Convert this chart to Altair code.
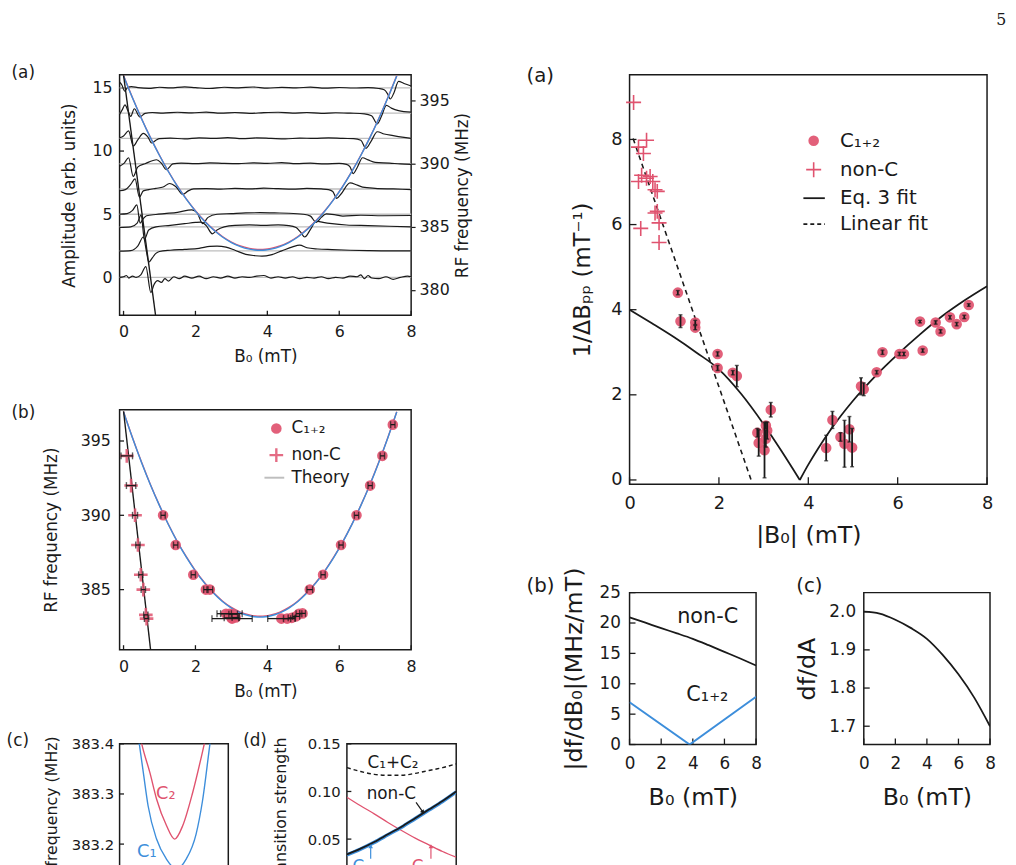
import altair as alt
import pandas as pd

FONT = "DejaVu Sans"
SERIF = "DejaVu Serif"
INK = "#1a1a1a"
PINK = "#E0536F"
BLUE = "#3D8EDB"
GRAY = "#BEBEBE"
CROSS = "M-1,0L1,0M0,-1L0,1"

# ---------------- data: left (a) spectra, (B0 [mT], amplitude) ----------------
spectra_rf = ["396", "394", "392", "390", "388", "386", "385", "383", "off"]
spectra_base = [15, 13, 11, 9, 7, 5, 4, 2.1, 0]
spec_396 = [(-0.11,15.45),(-0.05,15.25),(0.03,14.75),(0.12,15.05),(0.22,15.1),(0.4,15.02),(0.7,14.96),(1.0,15.05),(1.3,15.0),(1.7,15.08),(2.0,15.02),(2.4,14.95),(2.8,15.05),(3.2,15.0),(3.6,15.07),(4.0,14.98),(4.4,15.04),(4.8,15.0),(5.2,15.06),(5.6,14.98),(6.0,15.03),(6.4,14.99),(6.8,15.02),(7.1,14.95),(7.25,14.85),(7.34,14.55),(7.42,14.12),(7.52,14.6),(7.65,15.52),(7.8,15.35),(8.0,15.15)]
spec_394 = [(-0.11,12.9),(-0.03,13.3),(0.04,13.65),(0.12,13.2),(0.2,12.75),(0.3,13.35),(0.45,12.7),(0.6,12.98),(0.8,13.05),(1.1,13.0),(1.5,13.07),(1.9,13.02),(2.3,13.08),(2.7,13.0),(3.1,13.05),(3.5,12.98),(3.9,13.04),(4.3,13.07),(4.7,13.0),(5.1,13.05),(5.5,12.98),(5.9,13.03),(6.3,13.0),(6.7,12.95),(6.9,12.8),(7.06,12.15),(7.18,12.8),(7.31,13.62),(7.45,13.4),(7.65,13.2),(8.0,13.08)]
spec_392 = [(-0.11,11.05),(0.0,11.2),(0.14,11.6),(0.27,10.4),(0.4,10.9),(0.55,11.4),(0.68,11.1),(0.78,10.64),(0.9,10.85),(1.0,10.98),(1.3,11.02),(1.7,10.97),(2.1,11.05),(2.5,11.0),(2.9,11.06),(3.3,10.98),(3.7,11.04),(4.1,11.0),(4.5,10.96),(4.9,11.03),(5.3,11.0),(5.7,11.05),(6.1,11.0),(6.4,10.98),(6.6,10.85),(6.74,10.22),(6.88,10.75),(7.06,11.53),(7.25,11.35),(7.5,11.22),(7.75,11.1),(8.0,11.0)]
spec_390 = [(-0.11,8.8),(0.02,9.05),(0.14,9.47),(0.27,8.0),(0.4,8.75),(0.6,9.0),(0.92,9.31),(1.05,9.05),(1.19,8.53),(1.37,8.98),(1.6,9.05),(2.0,9.0),(2.4,9.06),(2.8,9.02),(3.2,9.0),(3.6,9.07),(4.0,9.03),(4.4,9.08),(4.8,9.0),(5.2,9.04),(5.6,8.98),(6.0,9.03),(6.2,8.95),(6.3,8.75),(6.39,8.22),(6.5,8.7),(6.65,9.47),(6.8,9.3),(7.0,9.1),(7.4,9.05),(7.7,8.98),(8.0,8.95)]
spec_388 = [(-0.11,6.86),(0.05,6.95),(0.2,7.36),(0.32,7.8),(0.44,6.35),(0.55,6.85),(0.7,6.95),(0.9,7.05),(1.1,7.15),(1.28,7.43),(1.45,7.2),(1.65,6.57),(1.8,6.85),(1.95,7.0),(2.3,7.03),(2.7,6.98),(3.1,7.05),(3.5,7.0),(3.9,7.06),(4.3,7.02),(4.7,6.98),(5.1,7.04),(5.5,7.0),(5.7,6.95),(5.82,6.8),(5.93,6.26),(6.05,6.6),(6.3,7.48),(6.5,7.3),(6.65,7.15),(7.0,7.05),(7.5,7.0),(8.0,6.95)]
spec_386 = [(-0.11,5.0),(0.1,5.05),(0.25,5.3),(0.37,5.74),(0.46,4.3),(0.55,4.65),(0.64,4.88),(0.9,4.98),(1.14,5.05),(1.5,5.15),(1.9,5.35),(2.05,5.1),(2.2,4.25),(2.35,4.75),(2.6,5.0),(3.0,5.05),(3.4,5.1),(3.8,5.12),(4.2,5.1),(4.6,5.08),(5.0,5.0),(5.2,4.85),(5.36,4.35),(5.5,4.75),(5.64,5.03),(5.9,4.95),(6.1,4.85),(6.6,4.92),(7.2,4.88),(8.0,4.9)]
spec_385 = [(-0.11,3.95),(0.2,4.0),(0.38,4.3),(0.49,4.95),(0.58,3.0),(0.7,3.75),(0.9,4.0),(1.3,4.12),(1.7,4.25),(2.0,4.35),(2.15,4.38),(2.3,4.1),(2.47,3.45),(2.6,3.75),(2.8,4.0),(3.1,4.12),(3.5,4.15),(3.9,4.12),(4.3,4.15),(4.6,4.1),(4.8,3.95),(4.92,3.6),(5.04,3.2),(5.2,3.8),(5.36,4.45),(5.55,4.35),(5.8,4.25),(6.2,4.15),(6.8,4.1),(7.4,4.05),(8.0,4.0)]
spec_383 = [(-0.11,2.08),(0.2,2.12),(0.4,2.5),(0.55,3.2),(0.64,2.0),(0.7,1.2),(0.8,1.55),(0.9,1.9),(1.0,2.05),(1.3,2.15),(1.7,2.22),(2.1,2.3),(2.4,2.45),(2.6,2.48),(2.85,2.4),(3.1,2.15),(3.4,1.82),(3.65,1.72),(3.85,1.68),(4.1,1.78),(4.4,2.1),(4.7,2.42),(4.9,2.55),(5.1,2.35),(5.4,2.25),(5.8,2.2),(6.3,2.15),(6.8,2.12),(7.4,2.1),(8.0,2.1)]
spec_off = [(-0.11,0.0),(0.0,0.05),(0.08,0.15),(0.15,-0.05),(0.25,0.1),(0.35,0.0),(0.48,0.2),(0.62,0.85),(0.76,-1.2),(0.85,-0.55),(0.95,-0.25),(1.05,-0.4),(1.15,-0.1),(1.25,-0.3),(1.4,0.05),(1.55,-0.1),(1.7,0.1),(1.9,-0.05),(2.1,0.1),(2.3,-0.1),(2.5,0.05),(2.7,-0.05),(2.9,0.1),(3.1,-0.05),(3.3,0.05),(3.5,0.0),(3.7,0.1),(3.9,0.15),(4.1,-0.05),(4.3,0.05),(4.5,-0.05),(4.7,0.05),(4.9,-0.1),(5.1,0.0),(5.3,-0.05),(5.5,0.05),(5.7,-0.1),(5.9,0.0),(6.1,-0.05),(6.3,0.1),(6.5,0.05),(6.6,0.2),(6.7,-0.1),(6.8,0.15),(6.9,-0.05),(7.1,-0.1),(7.3,0.05),(7.5,-0.15),(7.7,0.0),(7.9,0.1),(8.0,0.05)]
spectra_traces = [spec_396, spec_394, spec_392, spec_390, spec_388, spec_386, spec_385, spec_383, spec_off]

# theory: RF frequency (MHz) of C1 and C2 lines vs B0, and the non-C line
theory_b0 = [0, 0.25, 0.5, 0.75, 1.0, 1.25, 1.5, 1.75, 2.0, 2.25, 2.5, 2.75, 3.0, 3.25, 3.5, 3.65, 3.8, 3.95, 4.1, 4.35, 4.6, 4.85, 5.1, 5.35, 5.6, 5.85, 6.1, 6.35, 6.6, 6.85, 7.1, 7.35, 7.6]
theory_c1 = [396.95, 395.2, 393.56, 392.04, 390.65, 389.36, 388.2, 387.17, 386.25, 385.45, 384.77, 384.2, 383.76, 383.44, 383.24, 383.17, 383.15, 383.17, 383.24, 383.44, 383.76, 384.2, 384.77, 385.45, 386.25, 387.17, 388.21, 389.37, 390.65, 392.04, 393.56, 395.2, 396.95]
theory_c2 = [396.97, 395.22, 393.58, 392.06, 390.67, 389.38, 388.22, 387.2, 386.28, 385.48, 384.8, 384.24, 383.8, 383.49, 383.3, 383.23, 383.21, 383.23, 383.3, 383.49, 383.8, 384.24, 384.8, 385.48, 386.28, 387.2, 388.23, 389.39, 390.67, 392.06, 393.58, 395.22, 396.97]
nonc_theory = [(0.0, 397.0), (0.9, 377.8)]

# left (b): (B0, RF frequency, B0 error)
lb_c = [(1.10,390.0,0.06),(1.45,388.0,0.06),(1.94,386.0,0.06),(2.29,385.0,0.06),(2.40,385.0,0.08),(2.85,383.38,0.15),(2.95,383.38,0.35),(3.05,383.35,0.12),(3.02,383.05,0.56),(3.0,383.1,0.2),(3.12,383.12,0.1),(4.39,383.05,0.38),(4.55,383.05,0.1),(4.68,383.1,0.1),(4.8,383.2,0.1),(4.88,383.38,0.08),(4.98,383.4,0.08),(5.18,385.0,0.08),(5.55,386.0,0.06),(6.05,388.0,0.06),(6.48,390.0,0.06),(6.86,392.0,0.06),(7.2,394.0,0.06),(7.49,396.1,0.06)]
lb_nonc = [(0.09,394.0,0.16),(0.21,392.0,0.13),(0.32,390.0,0.07),(0.40,388.0,0.06),(0.48,386.0,0.06),(0.55,385.0,0.06),(0.62,383.3,0.06),(0.64,383.05,0.06)]
lb_legend_labels = ["C\u2081\u208a\u2082", "non-C", "Theory"]
lb_legend_y = [395.84, 394.05, 392.53]

# left (c): zoomed anticrossing, (B0, RF frequency)
lc_c2 = [(3.25,383.45),(3.326,383.40),(3.447,383.342),(3.544,383.29),(3.69,383.237),(3.81,383.21),(3.93,383.237),(4.076,383.303),(4.247,383.40),(4.33,383.45)]
lc_c1 = [(3.24,383.45),(3.29,383.40),(3.35,383.342),(3.42,383.276),(3.544,383.21),(3.69,383.17),(3.835,383.15),(3.98,383.17),(4.126,383.22),(4.22,383.286),(4.33,383.40),(4.38,383.45)]

# left (d): transition strength
ld_b0 = [0, 1, 2, 3, 4, 5, 6, 7, 8]
ld_sum = [0.125, 0.121, 0.118, 0.117, 0.117, 0.119, 0.122, 0.125, 0.129]
ld_nonc = [0.034, 0.040, 0.047, 0.055, 0.063, 0.072, 0.081, 0.090, 0.100]
ld_c1 = [0.0335, 0.0395, 0.0465, 0.0545, 0.0625, 0.0715, 0.0805, 0.0895, 0.0995]
ld_c2 = [0.094, 0.085, 0.0765, 0.0675, 0.059, 0.051, 0.044, 0.037, 0.031]

# right (a): 1/dBpp, (|B0|, value, error)
ra_c = [(1.08,4.40,0.05),(1.14,3.73,0.15),(1.47,3.70,0.05),(1.47,3.58,0.05),(1.97,2.96,0.05),(1.97,2.63,0.06),(2.31,2.52,0.05),(2.40,2.44,0.25),(2.86,1.11,0.1),(2.89,0.87,0.31),(3.02,0.70,0.65),(3.05,1.28,0.08),(3.08,1.16,0.2),(3.05,0.97,0.2),(3.16,1.65,0.17),(4.40,0.75,0.3),(4.54,1.41,0.2),(4.72,1.01,0.1),(4.81,0.85,0.55),(4.92,1.19,0.3),(4.98,0.76,0.45),(5.18,2.20,0.2),(5.24,2.13,0.15),(5.53,2.53,0.04),(5.66,3.00,0.05),(6.04,2.96,0.04),(6.14,2.96,0.04),(6.50,3.72,0.03),(6.56,3.04,0.04),(6.85,3.70,0.04),(6.96,3.49,0.04),(7.17,3.82,0.04),(7.32,3.66,0.04),(7.49,3.83,0.04),(7.59,4.11,0.03)]
ra_nonc = [(0.09,8.87),(0.20,7.82),(0.31,7.67),(0.38,7.98),(0.20,7.01),(0.27,7.16),(0.46,7.13),(0.52,7.01),(0.38,7.09),(0.57,6.82),(0.62,6.78),(0.57,6.27),(0.62,6.31),(0.66,6.04),(0.25,5.91),(0.66,5.58)]
ra_eq3_left = [(0.0,4.0),(0.5,3.68),(1.0,3.35),(1.5,2.99),(2.0,2.6),(2.5,2.02),(3.0,1.31),(3.4,0.68),(3.81,0.0)]
ra_eq3_right = [(3.81,0.0),(4.0,0.36),(4.22,0.74),(4.5,1.18),(5.0,1.86),(5.5,2.44),(6.0,2.95),(6.5,3.42),(7.0,3.85),(7.5,4.22),(8.0,4.55)]
ra_linear = [(0.08,8.02),(2.72,0.0)]
ra_legend_labels = ["C\u2081\u208a\u2082", "non-C", "Eq. 3 fit", "Linear fit"]
ra_legend_y = [7.97, 7.29, 6.62, 6.01]

# right (b), (c)
rb_b0 = [0, 1, 2, 3, 4, 5, 6, 7, 8]
rb_nonc = [20.93, 20.05, 19.15, 18.3, 17.4, 16.35, 15.25, 14.15, 13.0]
rb_c_b0 = [0.0, 3.8, 8.0]
rb_c = [6.95, 0.0, 7.86]
rc_b0 = [0, 1, 2, 3, 4, 5, 6, 7, 8]
rc_dfda = [2.0, 1.995, 1.979, 1.957, 1.929, 1.887, 1.836, 1.775, 1.70]

LABEL_COLORS = alt.Scale(domain=["k", "C1", "C2"], range=[INK, BLUE, PINK])


# ---------------- helpers ----------------
def sc(lo, hi):
    return alt.Scale(domain=[lo, hi], nice=False, zero=False)


def one():
    return pd.DataFrame({"a": [0]})


def vtext(text, x, y, size, align="left", baseline="middle", font=FONT, color=INK):
    return alt.Chart(one()).mark_text(text=text, font=font, fontSize=size, align=align,
                                      baseline=baseline, color=color).encode(x=alt.value(x), y=alt.value(y))


def anchor(x1, x2, y1, y2):
    return alt.Chart(one()).mark_rect(opacity=0).encode(
        x=alt.value(x1), x2=alt.value(x2), y=alt.value(y1), y2=alt.value(y2))


def ax_(f, s, a):
    return alt.X(f, type="quantitative", scale=s, axis=a)


def ay_(f, s, a):
    return alt.Y(f, type="quantitative", scale=s, axis=a)


def xticks(vals, xs, ax, h, length):
    return alt.Chart(pd.DataFrame({"v": vals})).mark_rule(color=INK, strokeWidth=1.3).encode(
        x=ax_("v", xs, ax), y=alt.value(h), y2=alt.value(h - length))


def yticks(vals, ys, ay, length):
    return alt.Chart(pd.DataFrame({"v": vals})).mark_rule(color=INK, strokeWidth=1.3).encode(
        y=ay_("v", ys, ay), x=alt.value(0), x2=alt.value(length))


def xaxis(title, values, fmt, lsize, tsize, lpad, ty, w):
    return alt.Axis(title=title, values=values, format=fmt, orient="bottom", labelFontSize=lsize,
                    titleFontSize=tsize, labelPadding=lpad, labelFlush=False, labelOverlap=False,
                    ticks=False, tickSize=0, domain=False, grid=False, titleX=w / 2, titleY=ty,
                    titleBaseline="middle", titleAlign="center")


def yaxis(title, values, fmt, lsize, tsize, lpad, tx, h):
    return alt.Axis(title=title, values=values, format=fmt, orient="left", labelFontSize=lsize,
                    titleFontSize=tsize, labelPadding=lpad, labelFlush=False, labelOverlap=False,
                    ticks=False, tickSize=0, domain=False, grid=False, titleX=tx, titleY=h / 2,
                    titleAngle=270, titleBaseline="middle", titleAlign="center")


def line(df, xf, yf, xs, ys, ax, ay, color, width, dash=None, interp="monotone", detail=None):
    kw = dict(color=color, strokeWidth=width, interpolate=interp, clip=True)
    if dash:
        kw["strokeDash"] = dash
    enc = dict(x=ax_(xf, xs, ax), y=ay_(yf, ys, ay))
    if detail:
        enc["detail"] = alt.Detail(detail, type="nominal")
    return alt.Chart(df).mark_line(**kw).encode(**enc)


def points(df, xs, ys, ax, ay, shape, size, filled, width=1.0, opacity=0.92):
    kw = dict(shape=shape, size=size, filled=filled, color=PINK, opacity=opacity)
    if not filled:
        kw["strokeWidth"] = width
    return alt.Chart(df).mark_point(**kw).encode(x=ax_("x", xs, ax), y=ay_("y", ys, ay))


# ---------------- left (a) ----------------
W_LA, H_LA = 295, 243.4
xs_l = sc(-0.11, 8)
ys_amp = sc(-3.0, 16.04)
ys_rf_a = sc(378.0, 397.04)
AX_LA = xaxis("B\u2080 (mT)", [0, 2, 4, 6, 8], "d", 16, 17, 8.0, 41.6, W_LA)
AY_AMP = yaxis("Amplitude (arb. units)", [0, 5, 10, 15], "d", 16, 17, 7.6, -51, H_LA)
AY_RF = alt.Axis(orient="right", title="RF frequency (MHz)", values=[380, 385, 390, 395], format="d",
                 labelFontSize=16, titleFontSize=17, ticks=True, tickSize=4, tickWidth=1.2,
                 tickColor=INK, labelPadding=4, domain=False, grid=False, labelFlush=False,
                 labelOverlap=False, titleX=52.4, titleY=H_LA / 2, titleAngle=270,
                 titleBaseline="middle", titleAlign="center")

rows = []
for rf, tr in zip(spectra_rf, spectra_traces):
    for b, a in tr:
        rows.append({"rf": rf, "x": b, "y": a})
df_spec = pd.DataFrame(rows)
df_theory = pd.DataFrame({"x": theory_b0, "c1": theory_c1, "c2": theory_c2})
df_nonc_th = pd.DataFrame(nonc_theory, columns=["x", "f"])

la_yt = yticks([0, 5, 10, 15], ys_amp, AY_AMP, 4.5)
la_xt = xticks([0, 2, 4, 6, 8], xs_l, AX_LA, H_LA, 4.5)
la_base = alt.Chart(pd.DataFrame({"y": spectra_base})).mark_rule(color=GRAY, strokeWidth=1.4).encode(
    y=ay_("y", ys_amp, AY_AMP), x=alt.value(0), x2=alt.value(W_LA))
la_traces = line(df_spec, "x", "y", xs_l, ys_amp, AX_LA, AY_AMP, INK, 1.2, detail="rf")
la_amp = alt.layer(la_yt, la_xt, la_base, la_traces)

la_c2 = line(df_theory, "x", "c2", xs_l, ys_rf_a, AX_LA, AY_RF, PINK, 1.4)
la_c1 = line(df_theory, "x", "c1", xs_l, ys_rf_a, AX_LA, AY_RF, BLUE, 1.4)
la_nc = line(df_nonc_th, "x", "f", xs_l, ys_rf_a, AX_LA, AY_RF, INK, 1.4, interp="linear")
la_rf = alt.layer(la_c2, la_c1, la_nc)

LA = alt.layer(la_amp, la_rf, vtext("(a)", -109.3, -1.6, 17),
               anchor(-119.3, 380.7, -68.3, 311.7)).resolve_scale(y="independent").properties(
    width=W_LA, height=H_LA)

# ---------------- left (b) ----------------
W_LB, H_LB = 295, 242.7
ys_b = sc(380.96, 397.1)
AX_LB = xaxis("B\u2080 (mT)", [0, 2, 4, 6, 8], "d", 16, 17, 8.7, 42.3, W_LB)
AY_LB = yaxis("RF frequency (MHz)", [385, 390, 395], "d", 16, 17, 9.3, -69.3, H_LB)
df_lbc = pd.DataFrame(lb_c, columns=["x", "y", "xerr"])
df_lbn = pd.DataFrame(lb_nonc, columns=["x", "y", "xerr"])
df_lberr = pd.concat([df_lbc, df_lbn], ignore_index=True)

lb_yt = yticks([385, 390, 395], ys_b, AY_LB, 4.5)
lb_xt = xticks([0, 2, 4, 6, 8], xs_l, AX_LB, H_LB, 4.5)
lb_c2 = line(df_theory, "x", "c2", xs_l, ys_b, AX_LB, AY_LB, PINK, 1.4)
lb_c1 = line(df_theory, "x", "c1", xs_l, ys_b, AX_LB, AY_LB, BLUE, 1.4)
lb_nc = line(df_nonc_th, "x", "f", xs_l, ys_b, AX_LB, AY_LB, INK, 1.4, interp="linear")
lb_circ = points(df_lbc, xs_l, ys_b, AX_LB, AY_LB, "circle", 115, True)
lb_cross = points(df_lbn, xs_l, ys_b, AX_LB, AY_LB, CROSS, 190, False, 2.6, 0.85)
lb_bar = alt.Chart(df_lberr).transform_calculate(
    lo="datum.x - datum.xerr", hi="datum.x + datum.xerr").mark_rule(color=INK, strokeWidth=1.3).encode(
    x=ax_("lo", xs_l, AX_LB), x2="hi:Q", y=ay_("y", ys_b, AY_LB))
lb_caps = alt.Chart(df_lberr).transform_calculate(
    lo="datum.x - datum.xerr", hi="datum.x + datum.xerr").transform_fold(
    ["lo", "hi"], as_=["end", "xc"]).mark_tick(orient="vertical", size=7, thickness=1.4, color=INK).encode(
    x=ax_("xc", xs_l, AX_LB), y=ay_("y", ys_b, AY_LB))

lb_leg_c = points(pd.DataFrame({"x": [4.25], "y": [lb_legend_y[0]]}), xs_l, ys_b, AX_LB, AY_LB,
                  "circle", 115, True)
lb_leg_n = points(pd.DataFrame({"x": [4.25], "y": [lb_legend_y[1]]}), xs_l, ys_b, AX_LB, AY_LB,
                  CROSS, 190, False, 2.4, 0.85)
lb_leg_l = alt.Chart(pd.DataFrame({"x": [3.92], "x2": [4.47], "y": [lb_legend_y[2]]})).mark_rule(
    color=GRAY, strokeWidth=2).encode(x=ax_("x", xs_l, AX_LB), x2="x2:Q", y=ay_("y", ys_b, AY_LB))
lb_leg_t = alt.Chart(pd.DataFrame({"x": [4.67] * 3, "y": lb_legend_y, "t": lb_legend_labels})).mark_text(
    font=FONT, fontSize=17, align="left", baseline="middle", color=INK).encode(
    x=ax_("x", xs_l, AX_LB), y=ay_("y", ys_b, AY_LB), text="t:N")

LB = alt.layer(lb_yt, lb_xt, lb_c2, lb_c1, lb_nc, lb_circ, lb_cross, lb_bar, lb_caps,
               lb_leg_c, lb_leg_n, lb_leg_l, lb_leg_t,
               vtext("(b)", -109.3, 3.3, 17), anchor(-119.3, 380.7, -25, 307)).properties(
    width=W_LB, height=H_LB)

# ---------------- left (c) ----------------
W_LC, H_LC = 110, 141
xs_c = sc(3.0, 4.6)
ys_c = sc(383.122, 383.4)
AY_LC = yaxis("RF frequency (MHz)", [383.2, 383.3, 383.4], ".1f", 15, 16, 6, -69.3, H_LC)
df_lc2 = pd.DataFrame(lc_c2, columns=["x", "y"])
df_lc1 = pd.DataFrame(lc_c1, columns=["x", "y"])
lc_yt = yticks([383.2, 383.3, 383.4], ys_c, AY_LC, 4.5)
lc_lab = alt.Chart(pd.DataFrame({"x": [3.68, 3.40], "y": [383.3, 383.185],
                                 "t": ["C\u2082", "C\u2081"], "c": ["C2", "C1"]})).mark_text(
    font=FONT, fontSize=18, align="center", baseline="middle").encode(
    x=ax_("x", xs_c, None), y=ay_("y", ys_c, AY_LC), text="t:N",
    color=alt.Color("c:N", scale=LABEL_COLORS, legend=None))
LC = alt.layer(lc_yt,
               line(df_lc2, "x", "y", xs_c, ys_c, None, AY_LC, PINK, 1.4),
               line(df_lc1, "x", "y", xs_c, ys_c, None, AY_LC, BLUE, 1.4),
               lc_lab, vtext("(c)", -114.3, -2.4, 17),
               anchor(-119.3, 116.7, -28.7, 204.3)).properties(width=W_LC, height=H_LC)

# ---------------- left (d) ----------------
W_LD, H_LD = 110.6, 136
xs_d = sc(0, 8)
ys_d = sc(0.0089, 0.15)
AY_LD = yaxis("Transition strength", [0.05, 0.10, 0.15], ".2f", 15, 16, 6.7, -66.7, H_LD)
df_ld = pd.DataFrame({"x": ld_b0, "sum": ld_sum, "nonc": ld_nonc, "c1": ld_c1, "c2": ld_c2})


def arrow(x1, y1, x2, y2, color, ang):
    d = pd.DataFrame({"x": [x1], "y": [y1], "x2": [x2], "y2": [y2]})
    shaft = alt.Chart(d).mark_rule(color=color, strokeWidth=1.2).encode(
        x=ax_("x", xs_d, None), y=ay_("y", ys_d, AY_LD), x2="x2:Q", y2="y2:Q")
    head = alt.Chart(d).mark_point(shape="triangle", filled=True, size=22, color=color, angle=ang,
                                   opacity=1).encode(x=ax_("x2", xs_d, None), y=ay_("y2", ys_d, AY_LD))
    return [shaft, head]


ld_lab = alt.Chart(pd.DataFrame({"x": [3.37, 3.25, 1.08, 5.42], "y": [0.13, 0.0978, 0.0208, 0.0208],
                                 "t": ["C\u2081+C\u2082", "non-C", "C\u2081", "C\u2082"],
                                 "c": ["k", "k", "C1", "C2"]})).mark_text(
    font=FONT, fontSize=17, align="center", baseline="middle").encode(
    x=ax_("x", xs_d, None), y=ay_("y", ys_d, AY_LD), text="t:N",
    color=alt.Color("c:N", scale=LABEL_COLORS, legend=None))
ld_yt = yticks([0.05, 0.10, 0.15], ys_d, AY_LD, 4.5)
LD = alt.layer(ld_yt,
               line(df_ld, "x", "sum", xs_d, ys_d, None, AY_LD, INK, 1.4, dash=[4, 3]),
               line(df_ld, "x", "c2", xs_d, ys_d, None, AY_LD, PINK, 1.3),
               line(df_ld, "x", "c1", xs_d, ys_d, None, AY_LD, BLUE, 3.6),
               line(df_ld, "x", "nonc", xs_d, ys_d, None, AY_LD, INK, 1.8),
               *arrow(5.06, 0.0885, 5.54, 0.0788, INK, 145),
               *arrow(1.74, 0.0294, 1.74, 0.0418, BLUE, 0),
               *arrow(6.15, 0.0294, 6.15, 0.0418, PINK, 0),
               ld_lab, vtext("(d)", -105, -2.4, 17),
               anchor(-110.7, 153.3, -28.7, 204.3)).properties(width=W_LD, height=H_LD)

# ---------------- right (a) ----------------
W_RA, H_RA = 361.7, 414.3
xs_r = sc(0, 8)
ys_r = sc(-0.1, 9.52)
AX_RA = xaxis("|B\u2080| (mT)", [0, 2, 4, 6, 8], "d", 18, 24, 10.3, 52.3, W_RA)
AY_RA = yaxis("1/\u0394B\u209a\u209a (mT\u207b\u00b9)", [0, 2, 4, 6, 8], "d", 18, 23, 7.6, -47.6, H_RA)
df_rac = pd.DataFrame(ra_c, columns=["x", "y", "err"])
df_ran = pd.DataFrame(ra_nonc, columns=["x", "y"])
df_eq3 = pd.concat([pd.DataFrame(ra_eq3_left, columns=["x", "y"]).assign(br="L"),
                    pd.DataFrame(ra_eq3_right, columns=["x", "y"]).assign(br="R")], ignore_index=True)
df_lin = pd.DataFrame(ra_linear, columns=["x", "y"])

ra_yt = yticks([0, 2, 4, 6, 8], ys_r, AY_RA, 7)
ra_xt = xticks([0, 2, 4, 6, 8], xs_r, AX_RA, H_RA, 7)
ra_circ = points(df_rac, xs_r, ys_r, AX_RA, AY_RA, "circle", 115, True)
ra_cross = points(df_ran, xs_r, ys_r, AX_RA, AY_RA, CROSS, 230, False, 1.6, 1.0)
ra_bar = alt.Chart(df_rac).transform_calculate(
    lo="datum.y - datum.err", hi="datum.y + datum.err").mark_rule(color=INK, strokeWidth=1.8).encode(
    x=ax_("x", xs_r, AX_RA), y=ay_("lo", ys_r, AY_RA), y2="hi:Q")
ra_caps = alt.Chart(df_rac).transform_calculate(
    lo="datum.y - datum.err", hi="datum.y + datum.err").transform_fold(
    ["lo", "hi"], as_=["end", "yc"]).mark_tick(orient="horizontal", size=4, thickness=1.4, color=INK).encode(
    x=ax_("x", xs_r, AX_RA), y=ay_("yc", ys_r, AY_RA))

ra_leg_c = points(pd.DataFrame({"x": [4.12], "y": [ra_legend_y[0]]}), xs_r, ys_r, AX_RA, AY_RA,
                  "circle", 115, True)
ra_leg_n = points(pd.DataFrame({"x": [4.12], "y": [ra_legend_y[1]]}), xs_r, ys_r, AX_RA, AY_RA,
                  CROSS, 230, False, 1.6, 1.0)
ra_leg_s = alt.Chart(pd.DataFrame({"x": [3.89], "x2": [4.37], "y": [ra_legend_y[2]]})).mark_rule(
    color=INK, strokeWidth=1.8).encode(x=ax_("x", xs_r, AX_RA), x2="x2:Q", y=ay_("y", ys_r, AY_RA))
ra_leg_d = alt.Chart(pd.DataFrame({"x": [3.89], "x2": [4.37], "y": [ra_legend_y[3]]})).mark_rule(
    color=INK, strokeWidth=1.6, strokeDash=[4, 3]).encode(x=ax_("x", xs_r, AX_RA), x2="x2:Q",
                                                          y=ay_("y", ys_r, AY_RA))
ra_leg_t = alt.Chart(pd.DataFrame({"x": [4.71] * 4, "y": ra_legend_y, "t": ra_legend_labels})).mark_text(
    font=FONT, fontSize=20, align="left", baseline="middle", color=INK).encode(
    x=ax_("x", xs_r, AX_RA), y=ay_("y", ys_r, AY_RA), text="t:N")

RA = alt.layer(ra_yt, ra_xt,
               line(df_lin, "x", "y", xs_r, ys_r, AX_RA, AY_RA, INK, 1.6, dash=[5, 4], interp="linear"),
               line(df_eq3, "x", "y", xs_r, ys_r, AX_RA, AY_RA, INK, 1.8, detail="br"),
               ra_circ, ra_cross, ra_bar, ra_caps,
               ra_leg_c, ra_leg_n, ra_leg_s, ra_leg_d, ra_leg_t,
               vtext("(a)", -104.3, 1.5, 20),
               vtext("5", 376, -50.5, 16, align="center", baseline="alphabetic", font=SERIF),
               anchor(-129.3, 386.7, -66.7, 482.3)).properties(width=W_RA, height=H_RA)

# ---------------- right (b) ----------------
W_RB, H_RB = 128, 153.7
ys_rb = sc(0, 25)
AX_RB = xaxis("B\u2080 (mT)", [0, 2, 4, 6, 8], "d", 17, 24, 11, 54, W_RB)
AY_RB = yaxis("|df/dB\u2080|(MHz/mT)", [0, 5, 10, 15, 20, 25], "d", 17, 24, 9.3, -56, H_RB)
df_rbn = pd.DataFrame({"x": rb_b0, "y": rb_nonc})
df_rbc = pd.DataFrame({"x": rb_c_b0, "y": rb_c})
rb_yt = yticks([0, 5, 10, 15, 20, 25], ys_rb, AY_RB, 6)
rb_xt = xticks([0, 2, 4, 6, 8], xs_r, AX_RB, H_RB, 6)
rb_lab = alt.Chart(pd.DataFrame({"x": [4.94, 4.92], "y": [21.0, 8.1],
                                 "t": ["non-C", "C\u2081\u208a\u2082"]})).mark_text(
    font=FONT, fontSize=21, align="center", baseline="middle", color=INK).encode(
    x=ax_("x", xs_r, AX_RB), y=ay_("y", ys_rb, AY_RB), text="t:N")
RB = alt.layer(rb_yt, rb_xt,
               line(df_rbn, "x", "y", xs_r, ys_rb, AX_RB, AY_RB, INK, 1.8),
               line(df_rbc, "x", "y", xs_r, ys_rb, AX_RB, AY_RB, BLUE, 2.0, interp="linear"),
               rb_lab, vtext("(b)", -104.3, -6.5, 20),
               anchor(-129.3, 150.7, -38.3, 277.7)).properties(width=W_RB, height=H_RB)

# ---------------- right (c) ----------------
W_RC, H_RC = 127.7, 153.7
ys_rc = sc(1.652, 2.05)
AX_RC = xaxis("B\u2080 (mT)", [0, 2, 4, 6, 8], "d", 17, 24, 11, 54, W_RC)
AY_RC = yaxis("df/dA", [1.7, 1.8, 1.9, 2.0], ".1f", 17, 24, 8.3, -56.6, H_RC)
df_rc = pd.DataFrame({"x": rc_b0, "y": rc_dfda})
rc_yt = yticks([1.7, 1.8, 1.9, 2.0], ys_rc, AY_RC, 6)
rc_xt = xticks([0, 2, 4, 6, 8], xs_r, AX_RC, H_RC, 6)
RC = alt.layer(rc_yt, rc_xt,
               line(df_rc, "x", "y", xs_r, ys_rc, AX_RC, AY_RC, INK, 1.8),
               vtext("(c)", -68.3, -6.5, 20),
               anchor(-83.3, 152.7, -38.3, 277.7)).properties(width=W_RC, height=H_RC)

# ---------------- layout ----------------
left = alt.vconcat(LA, LB, alt.hconcat(LC, LD, spacing=0), spacing=0)
right = alt.vconcat(RA, alt.hconcat(RB, RC, spacing=0), spacing=0)
chart = alt.hconcat(left, right, spacing=0).properties(padding=0).configure_view(
    stroke=INK, strokeWidth=1.5).configure_axis(
    labelFont=FONT, titleFont=FONT, labelColor=INK, titleColor=INK, titleFontWeight="normal",
    grid=False, domain=False)

chart.save("out.html", embed_options={"renderer": "svg", "actions": False})
